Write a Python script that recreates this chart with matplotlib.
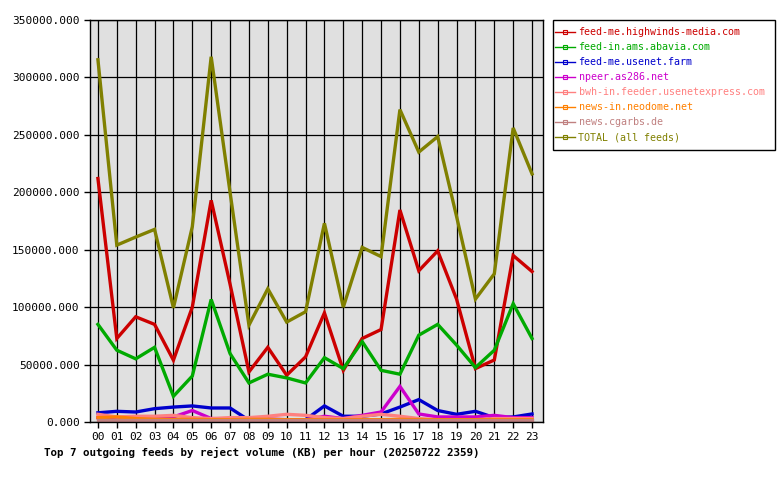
import matplotlib
matplotlib.use('Agg')
import matplotlib.pyplot as plt
from matplotlib.lines import Line2D
from matplotlib.patches import Rectangle

# hours and feeds
hours = ['%02d' % h for h in range(24)]

feed_names = ['feed-me.highwinds-media.com', 'feed-in.ams.abavia.com',
              'feed-me.usenet.farm', 'npeer.as286.net',
              'bwh-in.feeder.usenetexpress.com', 'news-in.neodome.net',
              'news.cgarbs.de', 'TOTAL (all feeds)']
feed_colors = ['#cc0000', '#00aa00', '#0000cc', '#cc00cc',
               '#ff8080', '#ff8000', '#c08080', '#808000']

highwinds = [212000, 72700, 91600, 85000, 53800, 100000, 193000, 120000, 43600, 65000, 40700, 56700,
             95000, 45000, 72700, 80500, 184600, 131700, 149000, 107000, 46500, 54000, 145000, 131000]
abavia = [85000, 62500, 55000, 65000, 22400, 40000, 106700, 59600, 34000, 41600, 38400, 34000,
          56000, 46500, 70000, 45000, 41600, 75600, 85000, 67000, 47400, 62500, 103000, 72700]
usenet_farm = [8000, 9300, 8700, 11600, 13000, 14000, 12200, 12200, 1500, 1000, 1500, 2000,
               14000, 5000, 5000, 7000, 13000, 19500, 10000, 6700, 9300, 3800, 4400, 7000]
as286 = [3800, 3000, 3000, 3000, 4400, 10000, 3000, 2600, 2600, 2600, 2000, 2000,
         5000, 3000, 5800, 8700, 31000, 7000, 4400, 4400, 4400, 5800, 3800, 3800]
usenetexpress = [6700, 4400, 5000, 5000, 5800, 3800, 3000, 3800, 3800, 5000, 6700, 5800,
                 3800, 3000, 5000, 6700, 5000, 3000, 2000, 2000, 2000, 3000, 3000, 3000]
neodome = [3800, 4400, 3000, 2300, 2300, 2300, 2000, 2000, 2300, 2300, 2000, 2000,
           2000, 2000, 2000, 2000, 2300, 2000, 2000, 2000, 2000, 2000, 2000, 2000]
cgarbs = [1500] * 24
total = [315400, 154000, 161000, 167700, 99400, 170000, 318000, 200000, 84300, 116000, 87000, 96000,
         173000, 100000, 152000, 144000, 272000, 235000, 248500, 179000, 107000, 129000, 256000, 216000]

series = [highwinds, abavia, usenet_farm, as286, usenetexpress, neodome, cgarbs, total]

mono = 'DejaVu Sans Mono'

fig = plt.figure(figsize=(7.8, 4.8), dpi=100)
ax = fig.add_axes([90 / 780, 58 / 480, 453 / 780, 402 / 480])
ax.set_facecolor('#e0e0e0')

x = list(range(len(hours)))
for vals, col in zip(series, feed_colors):
    ax.plot(x, vals, color=col, linewidth=2.4, solid_joinstyle='miter')

ax.set_xlim(-0.42, 23.58)
ax.set_ylim(0, 350000)
ax.set_xticks(x)
ax.set_xticklabels(hours, fontfamily=mono, fontsize=8)
yt = list(range(0, 350001, 50000))
ax.set_yticks(yt)
ax.set_yticklabels(['%d.000' % v for v in yt], fontfamily=mono, fontsize=8)
ax.grid(True, color='black', linewidth=0.9)
ax.set_axisbelow(True)
ax.tick_params(direction='out', length=4, width=1, color='black')
for s in ax.spines.values():
    s.set_linewidth(1)

ax.set_xlabel('Top 7 outgoing feeds by reject volume (KB) per hour (20250722 2359)',
              fontfamily=mono, fontsize=7.8, fontweight='bold')
ax.xaxis.set_label_coords(0.379, -0.062)

# legend box drawn separately so the padding matches
fig.add_artist(Rectangle((553 / 780, 1 - 150 / 480), 222 / 780, 130 / 480,
                         transform=fig.transFigure, fill=False, edgecolor='black', linewidth=1))
handles = [Line2D([0], [0], color=c, linewidth=1, marker='s', markersize=2.5,
                  markerfacecolor='none', markeredgewidth=0.8) for c in feed_colors]
leg = fig.legend(handles, feed_names, loc='upper left', bbox_to_anchor=(555 / 780, 1 - 27 / 480),
                 prop={'family': mono, 'size': 7.2}, frameon=False,
                 handlelength=2.0, handletextpad=0.35, labelspacing=0.5, borderpad=0,
                 borderaxespad=0)
for t, c in zip(leg.get_texts(), feed_colors):
    t.set_color(c)

fig.savefig('out.png', dpi=100)
